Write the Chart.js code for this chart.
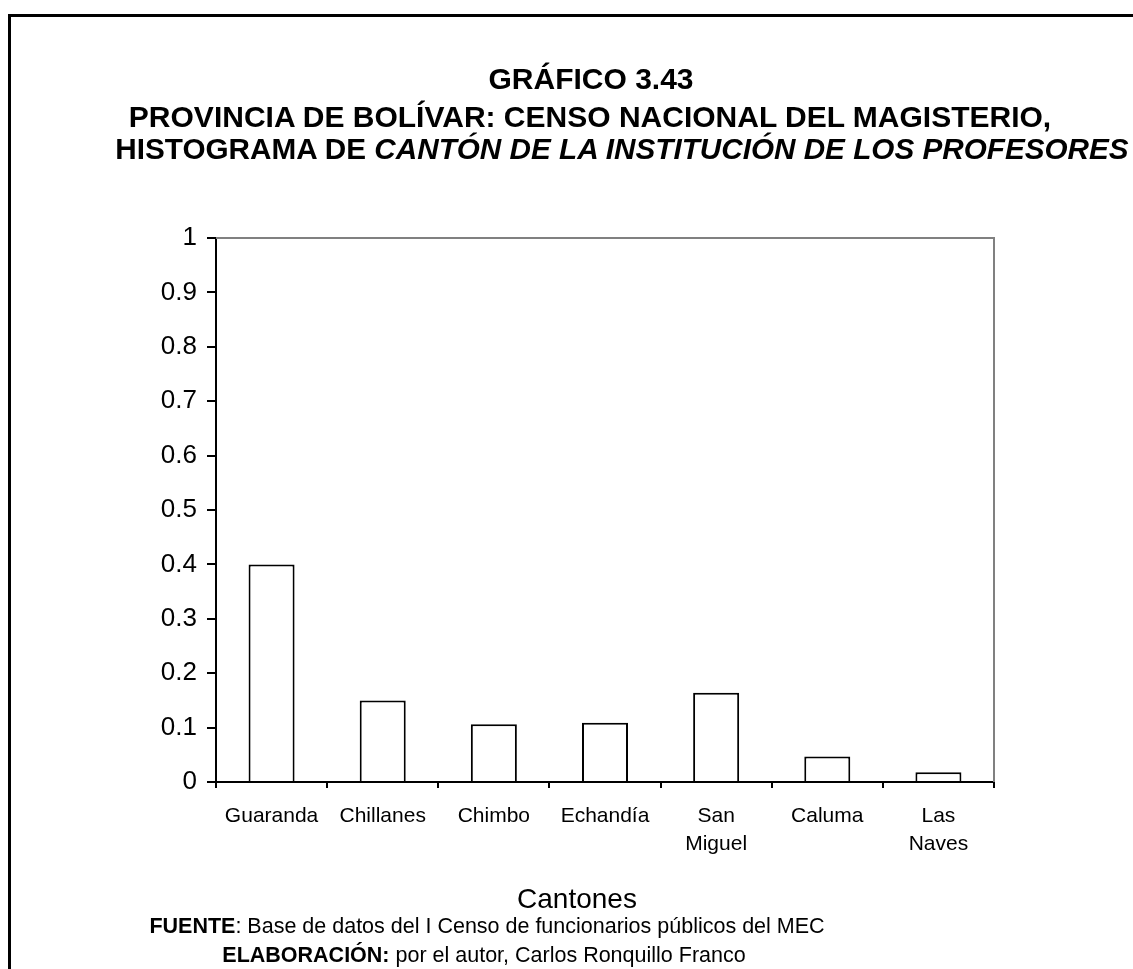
<!DOCTYPE html>
<html>
<head>
<meta charset="utf-8">
<script src="https://cdn.jsdelivr.net/npm/chart.js@4/dist/chart.umd.min.js"></script>
<style>
  html, body { margin:0; padding:0; background:#fff; }
  body { width:1133px; height:969px; position:relative; overflow:hidden; font-family:"Liberation Sans", Arial, sans-serif; color:#000; }
  #frame { position:absolute; left:8px; top:14px; width:1300px; height:1100px; border-top:3px solid #000; border-left:3px solid #000; }
  .t { position:absolute; white-space:nowrap; transform:translate(-50%, -50%); line-height:1; }
  .big { font-size:30px; font-weight:bold; }
  #c { position:absolute; left:0; top:0; }
  .foot { font-size:21.5px; }
</style>
</head>
<body>
<div id="frame"></div>
<canvas id="c" width="1133" height="969"></canvas>
<div class="t big" style="left:591px; top:79px;">GRÁFICO 3.43</div>
<div class="t big" style="left:590px; top:117px;">PROVINCIA DE BOLÍVAR: CENSO NACIONAL DEL MAGISTERIO,</div>
<div class="t big" style="left:622px; top:149px; font-size:29.7px;">HISTOGRAMA DE <i>CANTÓN DE LA INSTITUCIÓN DE LOS PROFESORES</i></div>
<div class="t" style="left:577px; top:899px; font-size:28px;">Cantones</div>
<div class="t foot" style="left:487px; top:927px;"><b>FUENTE</b>: Base de datos del I Censo de funcionarios públicos del MEC</div>
<div class="t foot" style="left:484px; top:956px;"><b>ELABORACIÓN:</b> por el autor, Carlos Ronquillo Franco</div>
<script>
const categories = ['Guaranda', 'Chillanes', 'Chimbo', 'Echandía', ['San', 'Miguel'], 'Caluma', ['Las', 'Naves']];
const values = [0.400, 0.150, 0.106, 0.109, 0.164, 0.047, 0.018];
const yTickLabels = ['0', '0.1', '0.2', '0.3', '0.4', '0.5', '0.6', '0.7', '0.8', '0.9', '1'];

const frameLines = {
  id: 'frameLines',
  afterDatasetsDraw(chart) {
    const a = chart.chartArea, ctx = chart.ctx;
    ctx.save();
    ctx.strokeStyle = '#808080';
    ctx.lineWidth = 2;
    ctx.beginPath();
    ctx.moveTo(a.left, a.top);
    ctx.lineTo(a.right, a.top);
    ctx.lineTo(a.right, a.bottom);
    ctx.stroke();
    ctx.restore();
  }
};

new Chart(document.getElementById('c'), {
  type: 'bar',
  data: {
    labels: categories,
    datasets: [{
      data: values,
      backgroundColor: '#ffffff',
      borderColor: '#000000',
      borderWidth: 2,
      barPercentage: 0.414,
      categoryPercentage: 1.0
    }]
  },
  options: {
    responsive: false,
    devicePixelRatio: 1,
    animation: false,
    events: [],
    layout: { padding: { left: 0, top: 238, right: 139, bottom: 969 - 782 - 80 } },
    plugins: { legend: { display: false }, tooltip: { enabled: false }, title: { display: false } },
    scales: {
      x: {
        afterFit(s) { s.height = 80; },
        grid: { display: true, offset: true, drawOnChartArea: false, drawTicks: true, tickLength: 6, color: '#000', lineWidth: 2 },
        border: { display: true, color: '#000', width: 2 },
        ticks: { color: '#000', font: { family: 'Liberation Sans', size: 21, lineHeight: 1.33 }, padding: 14, maxRotation: 0, autoSkip: false }
      },
      y: {
        min: 0, max: 1,
        afterFit(s) { s.width = 216; },
        grid: { display: true, drawOnChartArea: false, drawTicks: true, tickLength: 9, color: '#000', lineWidth: 2 },
        border: { display: true, color: '#000', width: 2 },
        ticks: {
          stepSize: 0.1,
          color: '#000',
          padding: 10,
          font: { family: 'Liberation Sans', size: 26 },
          callback: (v, i) => yTickLabels[i]
        }
      }
    }
  },
  plugins: [frameLines]
});
</script>
</body>
</html>
